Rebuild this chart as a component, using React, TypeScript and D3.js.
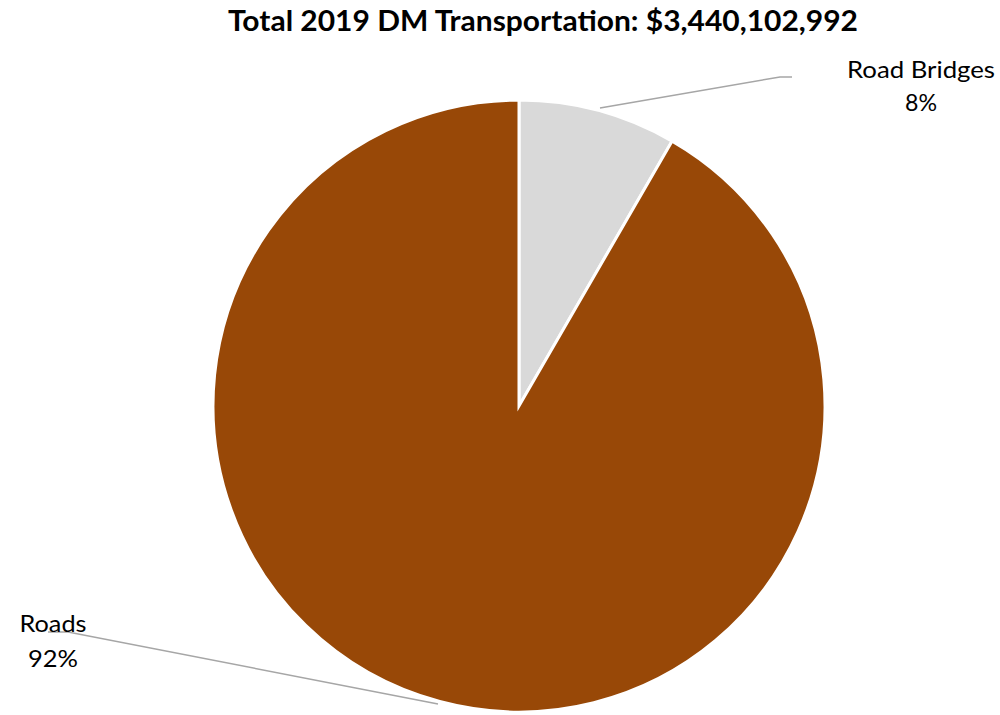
import React from "react";
import * as d3 from "d3";

const categories = ["Road Bridges", "Roads"];
const values = [287000000, 3153102992];
const colors = ["#D9D9D9", "#984807"];
const titleText = "Total 2019 DM Transportation: $3,440,102,992";

export default function App() {
  const width = 1000;
  const height = 715;
  const cx = 519;
  const cy = 406;
  const r = 306;
  const total = d3.sum(values);
  const pie = d3.pie<number>().sort(null).value((d) => d)(values);
  const arc = d3.arc<d3.PieArcDatum<number>>().innerRadius(0).outerRadius(r);
  const pct = d3.format(".0%");
  const font = "Lato, 'Open Sans', sans-serif";

  const labels = [
    { x: 921, y1: 78, y2: 111, w1: 148, w2: 32, line: "M600,108 L780,77 L792,77" },
    { x: 53, y1: 632, y2: 667, w1: 67, w2: 50, line: "M438,704 L68,632 L48,632" },
  ];

  return (
    <svg width={width} height={height} style={{ position: "absolute", left: 0, top: 0 }}>
      <rect width={width} height={height} fill="#fff" />
      <text x={543} y={31} textAnchor="middle" fontFamily={font} fontWeight="bold" fontSize={28} textLength={630} lengthAdjust="spacingAndGlyphs" fill="#000">
        {titleText}
      </text>
      <g transform={`translate(${cx},${cy})`}>
        {pie.map((p, i) => (
          <path key={i} d={arc(p) || ""} fill={colors[i]} stroke="#fff" strokeWidth={3} />
        ))}
      </g>
      {labels.map((l, i) => (
        <g key={i}>
          <path d={l.line} fill="none" stroke="#A6A6A6" strokeWidth={1.5} />
          <text x={l.x} y={l.y1} textAnchor="middle" fontFamily={font} fontSize={24} textLength={l.w1} lengthAdjust="spacingAndGlyphs" fill="#000">
            {categories[i]}
          </text>
          <text x={l.x} y={l.y2} textAnchor="middle" fontFamily={font} fontSize={24} textLength={l.w2} lengthAdjust="spacingAndGlyphs" fill="#000">
            {pct(values[i] / total)}
          </text>
        </g>
      ))}
    </svg>
  );
}
